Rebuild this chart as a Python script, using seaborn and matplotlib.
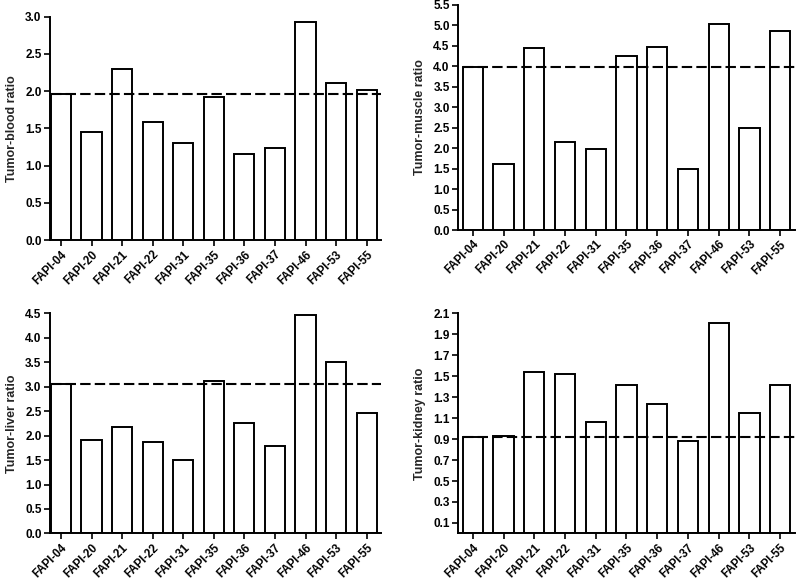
import matplotlib
matplotlib.use("Agg")
import numpy as np
import pandas as pd
import matplotlib.pyplot as plt
import seaborn as sns

tracers = ["FAPI-04", "FAPI-20", "FAPI-21", "FAPI-22", "FAPI-31", "FAPI-35",
           "FAPI-36", "FAPI-37", "FAPI-46", "FAPI-53", "FAPI-55"]

blood = [1.96, 1.45, 2.30, 1.58, 1.30, 1.92, 1.15, 1.24, 2.93, 2.11, 2.01]
muscle = [3.98, 1.62, 4.44, 2.14, 1.98, 4.25, 4.46, 1.48, 5.04, 2.50, 4.87]
liver = [3.05, 1.91, 2.18, 1.87, 1.51, 3.12, 2.26, 1.78, 4.47, 3.50, 2.46]
kidney = [0.92, 0.93, 1.54, 1.52, 1.06, 1.42, 1.24, 0.88, 2.01, 1.15, 1.42]

sns.set_style("ticks")
plt.rcParams["font.family"] = ["Liberation Sans", "DejaVu Sans"]

fig = plt.figure(figsize=(7.97, 5.82), dpi=100)

# (values, ylabel, axes rect, yticks, xlim)
panels = [
    (blood, "Tumor-blood ratio", [0.0627, 0.5876, 0.415, 0.384],
     np.arange(0, 3.01, 0.5), (-0.36, 10.46)),
    (muscle, "Tumor-muscle ratio", [0.5747, 0.6048, 0.423, 0.387],
     np.arange(0, 5.51, 0.5), (-0.48, 10.49)),
    (liver, "Tumor-liver ratio", [0.0627, 0.0835, 0.415, 0.378],
     np.arange(0, 4.51, 0.5), (-0.36, 10.46)),
    (kidney, "Tumor-kidney ratio", [0.5747, 0.0835, 0.423, 0.378],
     np.arange(0.1, 2.11, 0.2), (-0.48, 10.49)),
]

for vals, label, rect, yticks, xlim in panels:
    ax = fig.add_axes(rect)
    df = pd.DataFrame({"tracer": tracers, "ratio": vals})
    sns.barplot(data=df, x="tracer", y="ratio", color="white",
                edgecolor="black", linewidth=1.4, width=0.66, ax=ax)
    ax.hlines(vals[0], -0.33, xlim[1], colors="black", linestyles=(0, (5, 2)),
              linewidth=1.5)
    ax.set_xlim(*xlim)
    ax.set_ylim(0, yticks[-1])
    ax.set_yticks(yticks)
    ax.set_yticklabels([f"{t:.1f}" for t in yticks], fontsize=8.5, fontweight="bold")
    ax.set_xticks(range(len(tracers)))
    ax.set_xticklabels(tracers, rotation=45, ha="right", rotation_mode="anchor",
                       fontsize=8.3, fontweight="bold")
    ax.set_xlabel("")
    ax.set_ylabel(label, fontsize=9, fontweight="bold", labelpad=5)
    sns.despine(ax=ax)
    for s in ["left", "bottom"]:
        ax.spines[s].set_linewidth(1.4)
        ax.spines[s].set_color("black")
    ax.tick_params(axis="both", direction="out", length=4, width=1.2,
                   colors="black", pad=2)

fig.savefig("out.png", dpi=100)
